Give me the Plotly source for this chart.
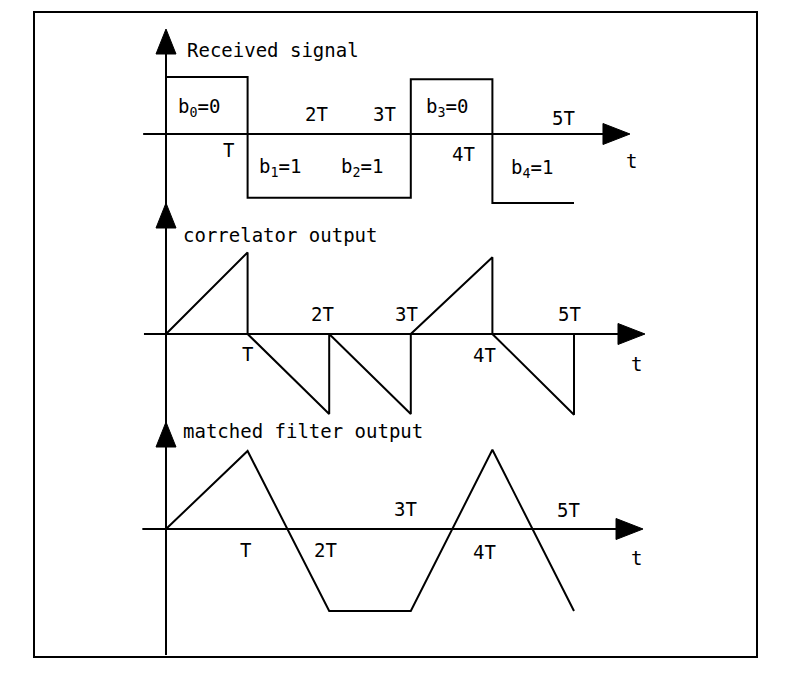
import plotly.graph_objects as go

# ---------------- data ----------------
bit_edges = [0, 1, 2, 3, 4, 5]            # time in units of T
bits = [0, 1, 1, 0, 1]
received_levels = [1.0, -1.12, -1.12, 0.96, -1.21]
correlator_peaks = [1.02, -1.0, -1.0, 0.96, -1.01]
matched_times = [0, 1, 2, 3, 4, 5]
matched_values = [0.0, 0.975, -1.025, -1.025, 0.99, -1.025]
tick_names = ["T", "2T", "3T", "4T", "5T"]
panel_titles = ["Received signal", "correlator output", "matched filter output"]

# ---------------- geometry (page body has an 8px margin) ----------------
W, H = 802, 693
OFF = 8
X0 = 166 - OFF          # pixel of t = 0
TPX = 81.6              # pixels per T
AX1, S1 = 134 - OFF, 57.0
AX2, S2 = 334 - OFF, 80.0
AX3, S3 = 529 - OFF, 80.0

# ---------------- build traces ----------------
rx_x = [bit_edges[0]] + bit_edges
rx_y = [0.0] + received_levels + [received_levels[-1]]

cor_x, cor_y = [], []
for k, pk in enumerate(correlator_peaks):
    cor_x += [bit_edges[k], bit_edges[k + 1], bit_edges[k + 1]]
    cor_y += [0.0, pk, 0.0]

line_style = dict(color="black", width=2)
fig = go.Figure()
fig.add_trace(go.Scatter(x=rx_x, y=rx_y, mode="lines", line=line_style,
                         line_shape="hv", yaxis="y", hoverinfo="skip"))
fig.add_trace(go.Scatter(x=cor_x, y=cor_y, mode="lines", line=line_style,
                         yaxis="y2", hoverinfo="skip"))
fig.add_trace(go.Scatter(x=matched_times, y=matched_values, mode="lines",
                         line=line_style, yaxis="y3", hoverinfo="skip"))

# ---------------- axes decorations ----------------
shapes = []
axis_specs = [  # yref, x start, horizontal arrow tip, vertical arrow tip
    ("y", -0.28, 5.686, 1.842),
    ("y2", -0.27, 5.87, 1.6375),
    ("y3", -0.29, 5.846, 1.3375),
]
for yref, xs, tip, vtip in axis_specs:
    shapes.append(dict(type="line", xref="x", yref=yref, x0=xs, x1=tip - 0.1,
                       y0=0, y1=0, line=dict(color="black", width=2)))
    shapes.append(dict(type="path", xref="x", yref=yref, xsizemode="pixel",
                       ysizemode="pixel", xanchor=tip, yanchor=0,
                       path="M 0,0 L -27,10.5 L -27,-10.5 Z",
                       fillcolor="black", line=dict(color="black", width=1)))
    shapes.append(dict(type="path", xref="x", yref=yref, xsizemode="pixel",
                       ysizemode="pixel", xanchor=0, yanchor=vtip,
                       path="M 0,0 L -10,-25 L 10,-25 Z",
                       fillcolor="black", line=dict(color="black", width=1)))
# continuous vertical axis
shapes.append(dict(type="line", xref="x", yref="paper", x0=0, x1=0,
                   y0=1 - (655 - OFF) / H, y1=1 - (40 - OFF) / H,
                   line=dict(color="black", width=2)))
# frame
shapes.append(dict(type="rect", xref="paper", yref="paper",
                   x0=(34 - OFF) / W, x1=(757 - OFF) / W,
                   y0=1 - (657 - OFF) / H, y1=1 - (12 - OFF) / H,
                   line=dict(color="black", width=2)))

# ---------------- labels ----------------
FONT = dict(family="DejaVu Sans Mono", size=19, color="black")
ann = []


def lab(text, x, y, yref, xanchor="center"):
    ann.append(dict(text=text, x=x, y=y, xref="x", yref=yref, showarrow=False,
                    xanchor=xanchor, yanchor="middle", font=FONT))


lab(panel_titles[0], 0.233, 1.47, "y", "left")
lab(panel_titles[1], 0.18, 1.24, "y2", "left")
lab(panel_titles[2], 0.18, 1.225, "y3", "left")

bit_label_pos = [(0.40, 0.47), (1.40, -0.58), (2.40, -0.58), (3.44, 0.47), (4.49, -0.61)]
for k, (b, (bx, by)) in enumerate(zip(bits, bit_label_pos)):
    lab(f"b<sub>{k}</sub>={b}", bx, by, "y")

tick_pos = {
    "y": [(0.76, -0.28), (1.84, 0.35), (2.68, 0.35), (3.65, -0.35), (4.87, 0.28)],
    "y2": [(1.0, -0.25), (1.92, 0.25), (2.95, 0.25), (3.90, -0.26), (4.94, 0.25)],
    "y3": [(0.97, -0.26), (1.95, -0.26), (2.93, 0.25), (3.90, -0.29), (4.93, 0.24)],
}
t_pos = {"y": (5.70, -0.47), "y2": (5.77, -0.375), "y3": (5.77, -0.36)}
for yref, plist in tick_pos.items():
    for name, (px, py) in zip(tick_names, plist):
        lab(name, px, py, yref)
    lab("t", t_pos[yref][0], t_pos[yref][1], yref)

fig.update_layout(
    width=W, height=H, margin=dict(l=0, r=0, t=0, b=0),
    paper_bgcolor="white", plot_bgcolor="white", showlegend=False,
    xaxis=dict(range=[-X0 / TPX, (W - X0) / TPX], visible=False, domain=[0, 1]),
    yaxis=dict(range=[-(H - AX1) / S1, AX1 / S1], visible=False, domain=[0, 1]),
    yaxis2=dict(range=[-(H - AX2) / S2, AX2 / S2], visible=False, overlaying="y"),
    yaxis3=dict(range=[-(H - AX3) / S3, AX3 / S3], visible=False, overlaying="y"),
    shapes=shapes, annotations=ann,
)

fig.write_html("out.html")
